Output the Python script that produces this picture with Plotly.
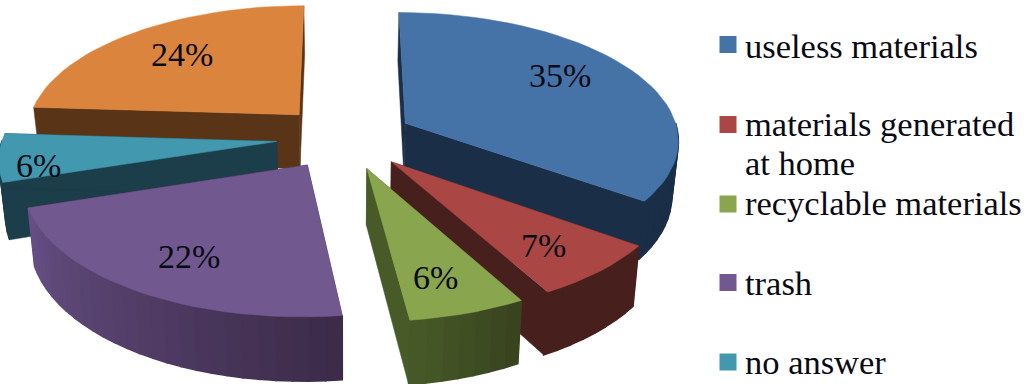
import numpy as np
import plotly.graph_objects as go

# ---- data ----
# The sixth slice (24%) has no legend entry in the original, whose legend stops at five rows.
categories = ["useless materials", "materials generated", "at home",
              "recyclable materials", "trash", "no answer"]
values = [35, 7, 6, 22, 6, 24]

# ---- styles ----
top_colors = ["#4572A7", "#AA4643", "#89A54E", "#71588F", "#4198AF", "#DB843D"]
wall_start = ["#1B2E47", "#47201D", "#475A28", "#665085", "#1C3D4A", "#5A3416"]
wall_end = ["#1B2E47", "#47201D", "#38421E", "#3C2A48", "#1C3D4A", "#5A3416"]
draw_order = [5, 0, 4, 3, 1, 2]
label_radius = [0.70, 0.80, 0.80, 0.78, 0.88, 0.62]
label_nudge = [(-6, -10), (-11, -2), (-10, -4), (13, -4), (6, 10), (-11, -8)]

# ---- perspective pie geometry ----
CX, CY, A, B, K, DEPTH, EXPLODE, BOTTOM_X = 345, 137.5, 274, 127, 0.118, 55, 0.25, 0.98
FONT = "Liberation Serif"


def project(X, Y, bottom=False):
    w = 1 - K * Y
    u = A * X / w
    v = CY + B * Y / w
    if bottom:
        return CX + u * BOTTOM_X, v + DEPTH / w
    return CX + u, v


def mix(c1, c2, t):
    a = [int(c1[i:i + 2], 16) for i in (1, 3, 5)]
    b = [int(c2[i:i + 2], 16) for i in (1, 3, 5)]
    return "rgb({},{},{})".format(*[round(p + (q - p) * t) for p, q in zip(a, b)])


def poly(fig, xs, ys, color, lw=0.5):
    fig.add_trace(go.Scatter(x=list(xs), y=list(ys), mode="lines", fill="toself",
                             fillcolor=color, line=dict(color=color, width=lw),
                             hoverinfo="skip", showlegend=False))


fig = go.Figure()
total = sum(values)
edges = np.cumsum([0] + values) / total * 2 * np.pi
annotations = []

for i in draw_order:
    t0, t1 = edges[i], edges[i + 1]
    mid = (t0 + t1) / 2
    ex, ey = EXPLODE * np.sin(mid), -EXPLODE * np.cos(mid)
    thetas = np.linspace(t0, t1, max(int(np.degrees(t1 - t0) / 3), 4) + 1)
    rim_X = ex + np.sin(thetas)
    rim_Y = ey - np.cos(thetas)

    # cut faces
    for t in (t0, t1):
        X, Y = ex + np.sin(t), ey - np.cos(t)
        p = [project(ex, ey), project(X, Y), project(X, Y, True), project(ex, ey, True)]
        poly(fig, [q[0] for q in p] + [p[0][0]], [q[1] for q in p] + [p[0][1]],
             wall_start[i] if i != 3 else wall_end[i])

    # rim, shaded along the arc (left side of the picture lighter); back-facing part skipped
    n = len(thetas) - 1
    for j in range(n):
        if np.cos((thetas[j] + thetas[j + 1]) / 2) > 0.02:
            continue
        p = [project(rim_X[j], rim_Y[j]), project(rim_X[j + 1], rim_Y[j + 1]),
             project(rim_X[j + 1], rim_Y[j + 1], True), project(rim_X[j], rim_Y[j], True)]
        shade = 1 - (j + 0.5) / n
        col = mix(wall_start[i], wall_end[i], shade)
        poly(fig, [q[0] for q in p] + [p[0][0]], [q[1] for q in p] + [p[0][1]], col, lw=1.6)

    # top face
    tx, ty = project(np.r_[ex, rim_X, ex], np.r_[ey, rim_Y, ey])
    poly(fig, tx, ty, top_colors[i])

    # value label
    r = label_radius[i]
    lx, ly = project(ex + r * np.sin(mid), ey - r * np.cos(mid))
    annotations.append(dict(x=lx + label_nudge[i][0], y=ly + label_nudge[i][1],
                            text=f"{values[i]}%", showarrow=False,
                            font=dict(family=FONT, size=34, color="#0A0A14")))

# legend, laid out to match the original
legend_y = [44.5, 124.5, 204, 282.5, 362]
text_y = [46, 124, 163, 203, 283, 362]
fig.add_trace(go.Scatter(x=[728] * 5, y=legend_y, mode="markers",
                         marker=dict(symbol="square", size=17, color=top_colors[:5]),
                         hoverinfo="skip", showlegend=False))
for name, y in zip(categories, text_y):
    annotations.append(dict(x=743, y=y, text=name, showarrow=False, xanchor="left",
                            yanchor="middle", align="left",
                            font=dict(family=FONT, size=34.5, color="#0A0A14")))

fig.update_layout(
    width=1024, height=384, margin=dict(l=0, r=0, t=0, b=0),
    paper_bgcolor="white", plot_bgcolor="white", showlegend=False,
    xaxis=dict(range=[0, 1024], visible=False, fixedrange=True),
    yaxis=dict(range=[384, 0], visible=False, fixedrange=True),
    annotations=annotations,
)
fig.write_html("out.html", config={"displayModeBar": False},
               post_script="document.body.style.margin='0';document.documentElement.style.overflow='hidden';")
